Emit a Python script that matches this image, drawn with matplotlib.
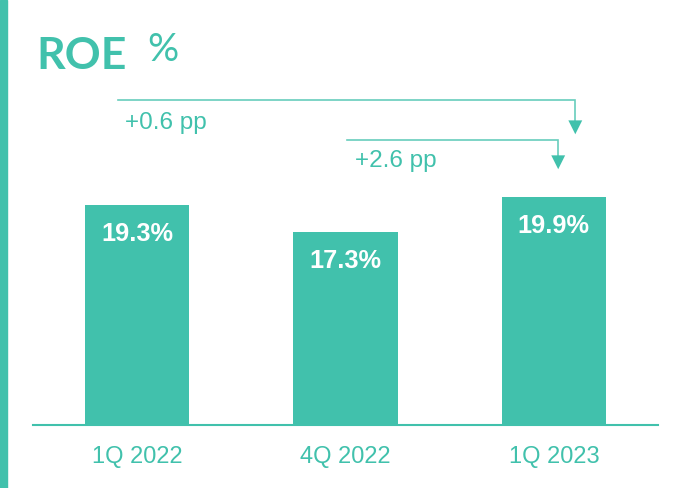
import matplotlib.pyplot as plt
from matplotlib.patches import Rectangle

quarters = ["1Q 2022", "4Q 2022", "1Q 2023"]
roe = [19.3, 17.3, 19.9]
changes = ["+0.6 pp", "+2.6 pp"]

teal = "#41C1AC"
W, H = 686, 488
PX = 13.5      # pixels per percentage point
Y0 = 3.0       # value at the baseline

plt.rcParams['font.family'] = ['Liberation Sans', 'DejaVu Sans']

fig = plt.figure(figsize=(W / 100, H / 100), dpi=100)
# axes in pixel units: baseline at y=425 from top, axis line from x=33 to 658
ax = fig.add_axes([33 / W, 63 / H, 625 / W, 425 / H])
ax.set_xlim(-0.5, 2.5)
ax.set_ylim(Y0, Y0 + 425 / PX)

x = range(len(quarters))
bars = ax.bar(x, [v - Y0 for v in roe], bottom=Y0, width=0.5, color=teal)
for b, v in zip(bars, roe):
    ax.text(b.get_x() + b.get_width() / 2, v - 36 / PX, f"{v:.1f}%",
            ha='center', va='baseline', color='white', fontsize=18.3, fontweight='bold')

for s in ['top', 'right', 'left']:
    ax.spines[s].set_visible(False)
ax.spines['bottom'].set_color(teal)
ax.spines['bottom'].set_linewidth(1.5)
ax.set_yticks([])
ax.set_xticks(list(x))
ax.set_xticklabels(quarters, fontsize=17, color=teal)
ax.tick_params(axis='x', length=0, pad=15)

# change arrows: (start x, end x, line y, arrow tip y, label x, label baseline y)
arrows = [(-0.091, 2.103, 27.07, 24.33, -0.058, 24.93),
          (1.008, 2.021, 24.11, 21.74, 1.047, 22.11)]
for (x0, x1, y0, y1, tx, ty), lab in zip(arrows, changes):
    ax.plot([x0, x1, x1], [y0, y0, y1 + 0.9], color=teal, lw=1.2, alpha=0.8,
            solid_joinstyle='miter')
    ax.annotate("", xy=(x1, y1), xytext=(x1, y1 + 1.1),
                arrowprops=dict(arrowstyle='-|>,head_length=1.0,head_width=0.5',
                                color=teal, lw=0))
    ax.text(tx, ty, lab, color=teal, fontsize=17.5, ha='left', va='baseline')

# title
fig.text(36 / W, 1 - 69 / H, "ROE", color=teal, fontsize=32, fontweight='bold',
         family=['Lato', 'DejaVu Sans'], va='baseline')
fig.text(147 / W, 1 - 61 / H, "%", color=teal, fontsize=28,
         family=['Lato', 'DejaVu Sans'], va='baseline')

# left accent bar
fig.patches.append(Rectangle((0, 0), 7 / W, 1, transform=fig.transFigure,
                             color=teal, zorder=0))

fig.savefig("out.png", dpi=100)
